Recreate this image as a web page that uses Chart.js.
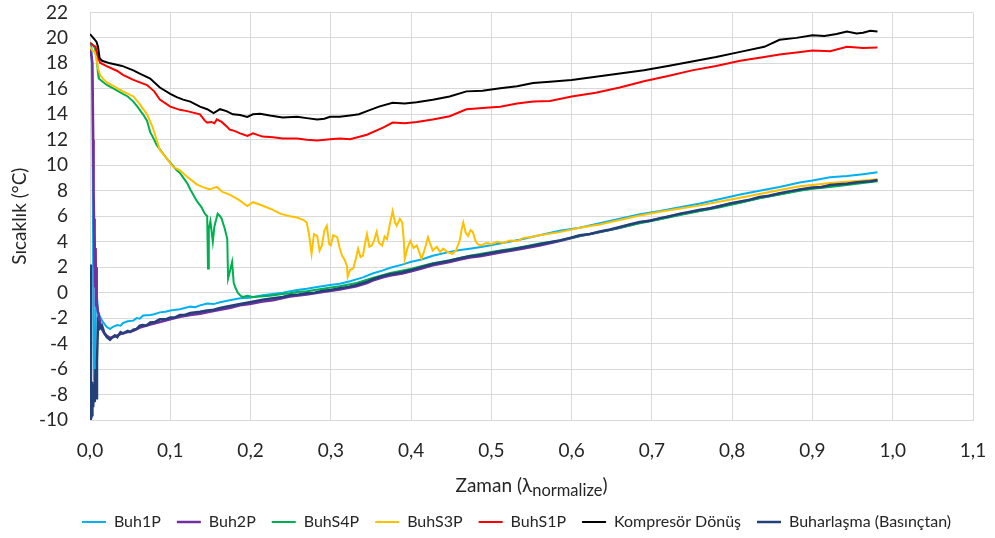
<!DOCTYPE html>
<html>
<head>
<meta charset="utf-8">
<script src="https://cdn.jsdelivr.net/npm/chart.js@4.4.0/dist/chart.umd.min.js"></script>
<style>
  html, body { margin: 0; padding: 0; background: #ffffff; }
  #wrap { width: 995px; height: 538px; }
</style>
</head>
<body>
<div id="wrap"><canvas id="chart" width="995" height="538"></canvas></div>
<script>
// Axis settings
const xMin = 0, xMax = 1.1, xStep = 0.1;
const yMin = -10, yMax = 22, yStep = 2;
const yTitle = 'Sıcaklık (°C)';
const xTitleMain = 'Zaman (λ';
const xTitleSub = 'normalize';
const xTitleEnd = ')';

// Series names (legend order)
const seriesNames = ['Buh1P', 'Buh2P', 'BuhS4P', 'BuhS3P', 'BuhS1P', 'Kompresör Dönüş', 'Buharlaşma (Basınçtan)'];
const seriesColors = ['#00B0F0', '#7030A0', '#00B050', '#FFC000', '#FF0000', '#000000', '#24407A'];

// Measured temperatures: [normalized time, °C]
const buh1P = [
  [0,19.6],[0.002,19.2],[0.003,15.0],[0.0035,9.0],[0.004,1.0],[0.0045,-4.0],[0.005,-6.8],[0.0055,-5.0],[0.006,-7.2],[0.007,-3.0],
  [0.0075,0.8],[0.008,-1.5],[0.009,-0.5],[0.010,-1.5],[0.0125,-1.9],[0.016,-2.3],[0.021,-2.7],[0.025,-2.85],[0.028,-2.7],[0.034,-2.55],
  [0.038,-2.6],[0.041,-2.4],[0.047,-2.25],[0.054,-2.2],[0.058,-2.0],[0.062,-2.05],[0.066,-1.8],[0.075,-1.75],[0.080,-1.7],[0.087,-1.55],
  [0.094,-1.5],[0.100,-1.4],[0.112,-1.3],[0.125,-1.1],[0.131,-1.15],[0.137,-1.0],[0.146,-0.85],[0.154,-0.9],[0.162,-0.75],[0.174,-0.6],
  [0.187,-0.45],[0.199,-0.4],[0.215,-0.2],[0.228,-0.1],[0.240,0.0],[0.258,0.2],[0.270,0.3],[0.283,0.45],[0.299,0.6],[0.311,0.7],
  [0.324,0.9],[0.340,1.2],[0.352,1.5],[0.365,1.75],[0.374,1.95],[0.389,2.2],[0.399,2.4],[0.413,2.6],[0.427,2.9],[0.448,3.2],
  [0.461,3.35],[0.473,3.45],[0.489,3.6],[0.511,3.85],[0.535,4.15],[0.56,4.5],[0.585,4.85],[0.61,5.1],[0.635,5.45],[0.66,5.8],
  [0.685,6.15],[0.71,6.4],[0.735,6.7],[0.76,7.0],[0.785,7.35],[0.81,7.7],[0.834,8.0],[0.859,8.3],[0.884,8.65],[0.90,8.8],
  [0.922,9.05],[0.943,9.15],[0.963,9.3],[0.981,9.45]
];

const buh2P = [
  [0,19.1],[0.002,18.5],[0.003,18.0],[0.004,12.0],[0.0045,8.0],[0.005,5.8],[0.0055,2.0],[0.006,4.7],[0.0065,0.5],[0.007,3.5],
  [0.0075,-1.0],[0.008,2.0],[0.0087,-0.8],[0.010,-1.5],[0.0125,-2.3],[0.015,-2.9],[0.018,-3.2],[0.021,-3.4],[0.025,-3.55],[0.031,-3.45],
  [0.038,-3.25],[0.047,-3.1],[0.054,-3.0],[0.062,-2.75],[0.075,-2.5],[0.087,-2.3],[0.100,-2.1],[0.112,-1.9],[0.125,-1.75],[0.137,-1.65],
  [0.149,-1.5],[0.162,-1.35],[0.174,-1.2],[0.187,-1.0],[0.199,-0.9],[0.215,-0.7],[0.228,-0.6],[0.249,-0.3],[0.270,-0.15],[0.290,0.05],
  [0.311,0.25],[0.332,0.5],[0.345,0.75],[0.352,0.95],[0.365,1.2],[0.374,1.35],[0.389,1.5],[0.399,1.65],[0.413,1.9],[0.427,2.15],
  [0.448,2.4],[0.461,2.6],[0.473,2.75],[0.486,2.85],[0.511,3.15],[0.535,3.4],[0.56,3.7],[0.585,4.05],[0.61,4.45],[0.635,4.75],
  [0.66,5.1],[0.685,5.5],[0.71,5.8],[0.735,6.15],[0.76,6.45],[0.785,6.8],[0.81,7.1],[0.834,7.45],[0.859,7.75],[0.884,8.05],
  [0.90,8.2],[0.922,8.4],[0.943,8.55],[0.963,8.7],[0.981,8.8]
];

const buhS4P = [
  [0,19.6],[0.003,19.5],[0.006,19.2],[0.008,18.6],[0.010,17.2],[0.011,16.8],[0.015,16.6],[0.021,16.3],[0.030,16.0],[0.041,15.6],
  [0.047,15.4],[0.054,15.0],[0.059,14.6],[0.066,14.0],[0.071,13.5],[0.075,12.6],[0.080,12.0],[0.083,11.6],[0.090,11.0],[0.096,10.5],
  [0.100,10.2],[0.108,9.6],[0.112,9.4],[0.121,8.6],[0.125,8.1],[0.133,7.2],[0.139,6.7],[0.143,6.2],[0.146,6.0],[0.147,1.9],
  [0.148,5.0],[0.150,5.6],[0.153,4.0],[0.155,5.2],[0.159,6.2],[0.162,6.0],[0.164,5.8],[0.168,5.0],[0.171,4.2],[0.172,1.1],
  [0.174,1.6],[0.177,2.4],[0.179,0.8],[0.181,0.4],[0.184,0.0],[0.187,-0.2],[0.190,-0.35],[0.196,-0.25],[0.203,-0.35],[0.212,-0.3],
  [0.224,-0.25],[0.240,-0.1],[0.249,-0.05],[0.258,0.05],[0.270,0.1],[0.290,0.3],[0.311,0.5],[0.332,0.75],[0.352,1.15],[0.374,1.55],
  [0.399,1.85],[0.427,2.3],[0.448,2.55],[0.473,2.9],[0.511,3.3],[0.535,3.55],[0.56,3.85],[0.585,4.1],[0.61,4.45],[0.635,4.75],
  [0.66,5.1],[0.685,5.45],[0.71,5.75],[0.735,6.1],[0.76,6.4],[0.785,6.7],[0.81,7.05],[0.834,7.4],[0.859,7.7],[0.884,8.0],
  [0.90,8.15],[0.922,8.3],[0.943,8.45],[0.963,8.6],[0.981,8.75]
];

const buhS3P = [
  [0,19.3],[0.003,19.0],[0.006,18.9],[0.008,18.4],[0.010,17.6],[0.0125,17.1],[0.016,16.8],[0.021,16.5],[0.030,16.2],[0.041,15.8],
  [0.054,15.4],[0.062,14.8],[0.071,14.0],[0.078,13.0],[0.083,12.0],[0.087,11.2],[0.096,10.5],[0.103,9.9],[0.112,9.6],[0.121,9.1],
  [0.133,8.5],[0.140,8.3],[0.149,8.1],[0.158,8.3],[0.165,7.9],[0.174,7.7],[0.185,7.3],[0.196,6.8],[0.203,7.1],[0.212,6.9],
  [0.220,6.7],[0.228,6.5],[0.237,6.2],[0.249,6.0],[0.258,5.9],[0.266,5.7],[0.270,5.5],[0.273,4.5],[0.276,3.05],[0.279,4.6],
  [0.283,4.45],[0.286,3.3],[0.289,3.7],[0.292,4.9],[0.295,5.25],[0.298,3.8],[0.300,3.7],[0.303,4.5],[0.308,4.35],[0.311,3.5],
  [0.314,2.9],[0.317,2.6],[0.320,2.1],[0.321,1.25],[0.324,1.8],[0.328,1.9],[0.331,2.6],[0.334,3.45],[0.337,2.8],[0.340,2.9],
  [0.343,4.0],[0.345,4.6],[0.348,3.6],[0.351,3.7],[0.354,4.1],[0.357,4.75],[0.360,3.9],[0.364,3.7],[0.367,4.4],[0.370,4.2],
  [0.373,5.2],[0.377,6.4],[0.380,5.5],[0.382,5.25],[0.386,5.8],[0.389,5.5],[0.391,4.0],[0.392,2.65],[0.396,3.6],[0.399,4.05],
  [0.403,3.5],[0.407,3.7],[0.410,3.2],[0.413,2.65],[0.417,3.4],[0.421,4.35],[0.424,3.8],[0.427,3.3],[0.432,3.6],[0.436,3.2],
  [0.440,3.45],[0.445,3.2],[0.451,3.05],[0.456,3.3],[0.461,4.2],[0.463,5.0],[0.465,5.5],[0.468,4.7],[0.471,4.45],[0.474,4.9],
  [0.477,4.75],[0.480,4.1],[0.483,3.8],[0.487,3.7],[0.494,3.9],[0.500,3.8],[0.507,4.0],[0.515,3.9],[0.523,4.1],[0.532,4.05],
  [0.540,4.3],[0.548,4.35],[0.56,4.5],[0.585,4.75],[0.61,5.1],[0.635,5.35],[0.66,5.7],[0.685,6.05],[0.71,6.35],[0.735,6.6],
  [0.76,6.85],[0.785,7.15],[0.81,7.45],[0.834,7.75],[0.859,8.05],[0.884,8.35],[0.90,8.45],[0.922,8.6],[0.943,8.7],[0.963,8.8],
  [0.981,8.9]
];

const buhS1P = [
  [0,19.6],[0.004,19.4],[0.007,19.3],[0.009,18.8],[0.011,18.3],[0.0125,18.05],[0.020,17.8],[0.034,17.4],[0.041,17.1],[0.054,16.7],
  [0.071,16.3],[0.080,15.8],[0.087,15.15],[0.100,14.6],[0.112,14.35],[0.121,14.25],[0.137,14.0],[0.143,13.5],[0.146,13.35],[0.151,13.4],
  [0.155,13.3],[0.158,13.6],[0.164,13.4],[0.171,13.0],[0.174,12.8],[0.180,12.7],[0.187,12.5],[0.196,12.3],[0.203,12.5],[0.215,12.25],
  [0.228,12.2],[0.240,12.1],[0.258,12.1],[0.270,12.0],[0.283,11.95],[0.299,12.05],[0.311,12.1],[0.324,12.05],[0.345,12.4],[0.365,12.95],
  [0.377,13.35],[0.392,13.3],[0.407,13.4],[0.427,13.6],[0.448,13.85],[0.469,14.4],[0.489,14.5],[0.511,14.6],[0.532,14.85],[0.552,15.0],
  [0.573,15.05],[0.60,15.4],[0.63,15.7],[0.66,16.1],[0.69,16.6],[0.72,17.0],[0.75,17.45],[0.78,17.8],[0.81,18.2],[0.84,18.5],
  [0.859,18.7],[0.88,18.85],[0.90,19.0],[0.922,18.95],[0.943,19.3],[0.963,19.2],[0.981,19.25]
];

const kompresorDonus = [
  [0,20.3],[0.004,20.0],[0.008,19.7],[0.010,19.3],[0.012,18.4],[0.015,18.2],[0.025,18.0],[0.040,17.8],[0.054,17.45],[0.062,17.2],
  [0.075,16.8],[0.087,16.1],[0.100,15.6],[0.108,15.35],[0.116,15.15],[0.125,15.0],[0.137,14.6],[0.146,14.4],[0.154,14.1],[0.162,14.4],
  [0.170,14.25],[0.178,14.0],[0.187,13.95],[0.196,13.8],[0.203,14.0],[0.212,14.05],[0.224,13.9],[0.240,13.75],[0.258,13.8],[0.270,13.7],
  [0.283,13.6],[0.292,13.65],[0.299,13.8],[0.311,13.8],[0.324,13.9],[0.335,14.0],[0.345,14.25],[0.360,14.6],[0.377,14.9],[0.392,14.85],
  [0.407,14.95],[0.427,15.15],[0.448,15.4],[0.469,15.8],[0.489,15.85],[0.511,16.05],[0.532,16.2],[0.552,16.45],[0.573,16.55],[0.60,16.7],
  [0.63,16.95],[0.66,17.2],[0.69,17.45],[0.72,17.8],[0.75,18.15],[0.78,18.5],[0.81,18.9],[0.84,19.3],[0.859,19.85],[0.88,20.0],
  [0.90,20.2],[0.915,20.15],[0.93,20.3],[0.943,20.5],[0.955,20.35],[0.963,20.4],[0.972,20.55],[0.981,20.5]
];

const buharlasma = [
  [0,2.2],[0.0012,-9.9],[0.0025,-9.6],[0.003,-7.0],[0.004,-9.0],[0.005,-7.2],[0.006,-8.6],[0.0068,-6.0],[0.0075,-8.3],[0.0087,-5.4],
  [0.010,-2.3],[0.0125,-2.8],[0.015,-2.6],[0.018,-3.2],[0.021,-3.5],[0.025,-3.7],[0.028,-3.5],[0.031,-3.35],[0.034,-3.5],[0.038,-3.1],
  [0.041,-3.2],[0.047,-3.0],[0.050,-3.1],[0.054,-2.9],[0.058,-2.85],[0.062,-2.6],[0.066,-2.55],[0.070,-2.6],[0.075,-2.35],[0.081,-2.3],
  [0.087,-2.1],[0.094,-2.1],[0.100,-1.95],[0.106,-1.95],[0.112,-1.75],[0.118,-1.75],[0.125,-1.6],[0.137,-1.5],[0.146,-1.4],[0.154,-1.35],
  [0.162,-1.2],[0.174,-1.05],[0.187,-0.9],[0.199,-0.75],[0.215,-0.55],[0.228,-0.45],[0.240,-0.35],[0.249,-0.2],[0.260,-0.15],[0.270,-0.05],
  [0.280,0.0],[0.290,0.15],[0.300,0.2],[0.311,0.35],[0.322,0.45],[0.332,0.6],[0.345,0.85],[0.352,1.05],[0.365,1.3],[0.374,1.45],
  [0.389,1.6],[0.399,1.75],[0.413,2.0],[0.427,2.25],[0.440,2.4],[0.448,2.5],[0.461,2.7],[0.473,2.85],[0.486,2.95],[0.498,3.1],
  [0.511,3.25],[0.523,3.35],[0.535,3.5],[0.548,3.65],[0.56,3.8],[0.573,3.95],[0.585,4.1],[0.598,4.3],[0.61,4.5],[0.623,4.6],
  [0.635,4.8],[0.648,4.95],[0.66,5.15],[0.672,5.35],[0.685,5.55],[0.698,5.65],[0.71,5.85],[0.722,6.0],[0.735,6.2],[0.748,6.35],
  [0.76,6.5],[0.772,6.6],[0.785,6.8],[0.797,7.0],[0.81,7.15],[0.822,7.3],[0.834,7.5],[0.846,7.6],[0.859,7.8],[0.871,7.95],
  [0.884,8.1],[0.90,8.25],[0.912,8.3],[0.922,8.45],[0.933,8.5],[0.943,8.55],[0.953,8.65],[0.963,8.7],[0.972,8.75],[0.981,8.85]
];

const seriesData = [buh1P, buh2P, buhS4P, buhS3P, buhS1P, kompresorDonus, buharlasma];
const seriesWidths = [2, 2.5, 2, 2, 2, 2, 2.5];

const FONT = 'Lato, "Open Sans", "Liberation Sans", sans-serif';
const TEXT = '#262626';
const GRID = '#d9d9d9';

const datasets = seriesNames.map((name, i) => ({
  label: name,
  data: seriesData[i].map(p => ({ x: p[0], y: p[1] })),
  borderColor: seriesColors[i],
  backgroundColor: seriesColors[i],
  borderWidth: seriesWidths[i],
  pointRadius: 0,
  pointHoverRadius: 0,
  showLine: true,
  tension: 0,
  // later series are painted over earlier ones
  order: seriesNames.length - i
}));

// Axis title with subscript, centred under the plot area
const xTitlePlugin = {
  id: 'xTitleSub',
  afterDraw(chart) {
    const { ctx, chartArea } = chart;
    const xs = chart.scales.x;
    const cx = (chartArea.left + chartArea.right) / 2;
    const base = xs.top + 72;
    ctx.save();
    ctx.fillStyle = TEXT;
    ctx.textBaseline = 'alphabetic';
    ctx.textAlign = 'left';
    const bigFont = '19px ' + FONT;
    const smallFont = '16.5px ' + FONT;
    ctx.font = bigFont;
    const w1 = ctx.measureText(xTitleMain).width;
    const w3 = ctx.measureText(xTitleEnd).width;
    ctx.font = smallFont;
    const w2 = ctx.measureText(xTitleSub).width;
    let x = cx - (w1 + w2 + w3) / 2;
    ctx.font = bigFont;
    ctx.fillText(xTitleMain, x, base);
    x += w1;
    ctx.font = smallFont;
    ctx.fillText(xTitleSub, x, base + 4);
    x += w2;
    ctx.font = bigFont;
    ctx.fillText(xTitleEnd, x, base);
    ctx.restore();
  }
};

// Nudge the legend row so it sits under the plot area
const legendShift = {
  id: 'legendShift',
  afterLayout(chart) {
    const lg = chart.legend;
    if (!lg) return;
    lg.left += 30; lg.right += 30;
    lg.top += 2; lg.bottom += 2;
  }
};

new Chart(document.getElementById('chart'), {
  type: 'scatter',
  data: { datasets },
  plugins: [xTitlePlugin, legendShift],
  options: {
    responsive: false,
    animation: false,
    devicePixelRatio: 1,
    layout: { padding: { left: 0, right: 22, top: 12, bottom: 0 } },
    plugins: {
      tooltip: { enabled: false },
      legend: {
        position: 'bottom',
        labels: {
          usePointStyle: true,
          pointStyle: 'line',
          pointStyleWidth: 24,
          padding: 16,
          color: TEXT,
          font: { family: FONT, size: 16 },
          sort: (a, b) => a.datasetIndex - b.datasetIndex
        }
      }
    },
    scales: {
      x: {
        type: 'linear',
        min: xMin,
        max: xMax,
        afterFit(scale) { scale.height = 76; },
        ticks: {
          stepSize: xStep,
          color: TEXT,
          padding: 1,
          maxRotation: 0,
          autoSkip: false,
          font: { family: FONT, size: 19 },
          callback: v => Number(v).toFixed(1).replace('.', ',')
        },
        grid: { color: GRID, lineWidth: 1, drawTicks: true, tickLength: 18, tickColor: 'rgba(0,0,0,0)' },
        border: { color: GRID }
      },
      y: {
        type: 'linear',
        min: yMin,
        max: yMax,
        afterFit(scale) { scale.width = 90; },
        title: {
          display: true,
          text: yTitle,
          color: TEXT,
          font: { family: FONT, size: 19 },
          padding: { top: 8, bottom: 0 }
        },
        ticks: {
          stepSize: yStep,
          maxTicksLimit: 40,
          autoSkip: false,
          color: TEXT,
          padding: 1,
          font: { family: FONT, size: 19 }
        },
        grid: { color: GRID, lineWidth: 1, drawTicks: true, tickLength: 21, tickColor: 'rgba(0,0,0,0)' },
        border: { color: GRID }
      }
    }
  }
});
</script>
</body>
</html>
